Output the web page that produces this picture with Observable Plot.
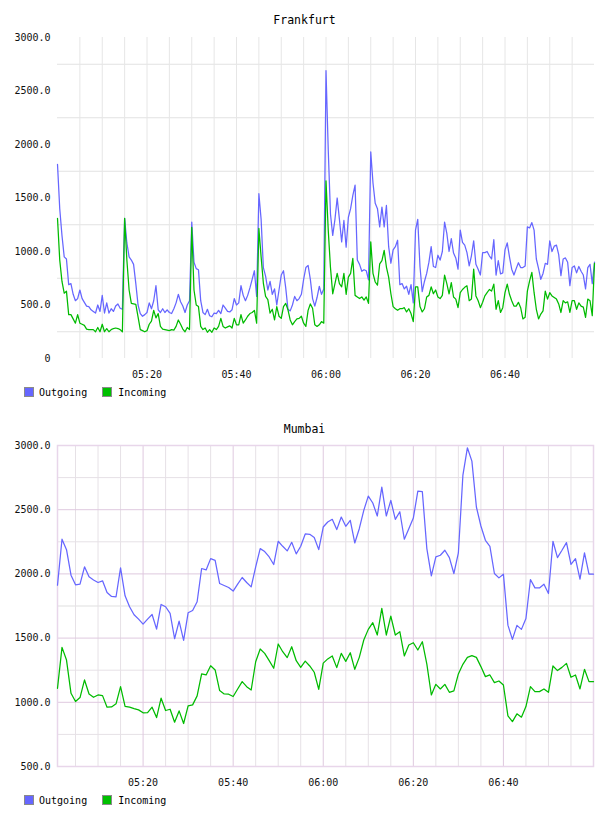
<!DOCTYPE html>
<html>
<head>
<meta charset="utf-8">
<script src="https://cdn.jsdelivr.net/npm/d3@7"></script>
<script src="https://cdn.jsdelivr.net/npm/@observablehq/plot@0.6"></script>
<style>
  body { margin: 0; background: #fff; }
  svg { display: block; }
  .legend {
    height: 24px; display: flex; align-items: center; padding-left: 24px;
    font: 10px "DejaVu Sans Mono", monospace; color: #000;
  }
  .sw {
    display: inline-block; width: 8px; height: 8px; border: 1px solid #8a8a8a;
    margin-right: 5px;
  }
</style>
</head>
<body>
<div id="frankfurt"></div>
<div class="legend"><span class="sw" style="background:#6666ff"></span>Outgoing<span class="sw" style="background:#00c000;margin-left:15px;margin-right:6px"></span>Incoming</div>
<div id="mumbai"></div>
<div class="legend"><span class="sw" style="background:#6666ff"></span>Outgoing<span class="sw" style="background:#00c000;margin-left:15px;margin-right:6px"></span>Incoming</div>
<script>
// Traffic samples per site; Frankfurt every 30 s from 05:00, Mumbai every minute from 05:01.
const seriesNames = ["Outgoing", "Incoming"];
const seriesColors = ["#6666ff", "#00bb00"];
const timeTickLabels = ["05:20", "05:40", "06:00", "06:20", "06:40"];

const frankfurtStart = "05:00";
const frankfurtEnd = "07:00";
const frankfurtStepSeconds = 30;
const frankfurtYTicks = [0, 500, 1000, 1500, 2000, 2500, 3000];
const frankfurtOutgoing = [
  1815, 1400, 1150, 950, 930, 690, 700, 600, 540, 560,
  640, 560, 525, 490, 485, 455, 440, 425, 500, 440,
  590, 425, 520, 425, 465, 440, 490, 510, 470, 460,
  1310, 1080, 950, 920, 880, 700, 500, 420, 395, 410,
  430, 520, 465, 540, 680, 455, 430, 465, 430, 455,
  430, 420, 465, 520, 600, 530, 490, 430, 500, 540,
  1275, 900, 840, 830, 540, 430, 410, 460, 400, 390,
  425, 420, 450, 420, 500, 470, 440, 435, 455, 560,
  500, 520, 680, 590, 540, 590, 660, 740, 820, 580,
  1540, 1300, 850, 770, 640, 720, 600, 650, 500, 640,
  780, 820, 660, 460, 445, 500, 580, 540, 560, 600,
  740, 850, 870, 740, 560, 490, 570, 675, 600, 650,
  2690, 1950, 1350, 1150, 1300, 1500, 1300, 1090, 1290, 1040,
  1320, 1400, 1525, 1620, 920, 880, 815, 830, 820, 735,
  1930, 1640, 1450, 1400, 1230, 1415, 1230, 1430, 1045, 890,
  1015, 1045, 1105, 690, 700, 650, 675, 600, 690, 520,
  1200, 1300, 860, 625, 720, 795, 900, 1045, 860, 850,
  965, 920, 1000, 1275, 1170, 1000, 1120, 985, 940, 835,
  1200, 1085, 1060, 990, 865, 960, 1100, 880, 835, 780,
  990, 990, 1000, 960, 930, 1110, 780, 915, 790, 800,
  1015, 1080, 950, 835, 780, 840, 895, 850, 850, 865,
  1230, 1220, 1270, 1200, 930, 840, 740, 795, 890, 880,
  1100, 1000, 1050, 1060, 970, 775, 930, 940, 900, 680,
  850, 865, 800, 860, 815, 780, 650, 850, 880, 700,
  900
];
const frankfurtIncoming = [
  1310, 920, 720, 610, 630, 410, 410, 370, 330, 410,
  330, 320, 310, 275, 270, 270, 270, 250, 290, 250,
  320, 250, 280, 250, 270, 280, 285, 280, 270, 250,
  1310, 920, 640, 515, 510, 505, 390, 270, 260, 250,
  260, 320, 350, 450, 380, 420, 300, 275, 270, 265,
  260, 270, 265, 300, 360, 320, 275, 250, 290, 270,
  1225, 640, 500, 485, 300, 270, 285, 245, 270, 245,
  285, 270, 300, 375, 300, 285, 295, 305, 285, 375,
  315, 315, 410, 330, 360, 395, 420, 430, 450, 330,
  1215, 950, 705, 580, 550, 425, 460, 360, 485, 395,
  375, 485, 515, 455, 360, 315, 345, 370, 375, 395,
  330, 300, 450, 510, 470, 315, 300, 315, 345, 330,
  1660, 1200, 850, 605, 700, 795, 700, 670, 795, 600,
  760, 795, 935, 590, 575, 560, 575, 545, 575, 515,
  1090, 795, 715, 685, 885, 915, 1010, 855, 760, 605,
  485, 465, 450, 465, 465, 475, 435, 465, 420, 345,
  670, 670, 485, 435, 465, 575, 590, 670, 605, 640,
  575, 560, 590, 780, 700, 605, 710, 575, 555, 475,
  615, 645, 665, 680, 540, 555, 835, 585, 540, 475,
  525, 585, 615, 645, 630, 695, 460, 540, 430, 475,
  615, 695, 600, 540, 490, 490, 525, 475, 370, 385,
  630, 725, 805, 615, 460, 370, 415, 445, 630, 555,
  615, 585, 570, 555, 510, 430, 540, 520, 530, 430,
  540, 540, 460, 520, 490, 480, 385, 555, 540, 400,
  890
];

const mumbaiStart = "05:01";
const mumbaiEnd = "07:00";
const mumbaiStepSeconds = 60;
const mumbaiYTicks = [500, 1000, 1500, 2000, 2500, 3000];
const mumbaiOutgoing = [
  1912, 2270, 2189, 1990, 1915, 1920, 2055, 1977, 1953, 1933,
  1946, 1855, 1824, 1822, 2047, 1829, 1744, 1682, 1648, 1609,
  1648, 1684, 1570, 1762, 1744, 1692, 1495, 1632, 1482, 1697,
  1715, 1783, 2042, 2031, 2119, 2106, 1925, 1910, 1894, 1866,
  1920, 1972, 1933, 1899, 2055, 2197, 2174, 2132, 2073, 2254,
  2215, 2179, 2246, 2156, 2215, 2311, 2308, 2283, 2189, 2365,
  2404, 2425, 2345, 2443, 2371, 2417, 2241, 2352, 2495, 2606,
  2552, 2451, 2676, 2451, 2573, 2425, 2484, 2270, 2352, 2435,
  2645, 2640, 2197, 1985, 2132, 2145, 2184, 2127, 2003, 2163,
  2767, 2982, 2878, 2521, 2373, 2262, 2215, 2003, 1969, 1998,
  1601, 1490, 1599, 1568, 1653, 1956, 1891, 1891, 1920, 1847,
  2254, 2127, 2184, 2244, 2075, 2119, 1959, 2163, 1998, 1998
];
const mumbaiIncoming = [
  1109, 1428, 1329, 1070, 1006, 1037, 1174, 1065, 1039, 1057,
  1052, 962, 964, 988, 1122, 969, 962, 951, 941, 918,
  920, 962, 881, 1032, 936, 946, 845, 933, 835, 972,
  980, 1050, 1221, 1213, 1285, 1252, 1091, 1065, 1063, 1045,
  1104, 1161, 1122, 1096, 1316, 1415, 1381, 1324, 1265, 1454,
  1394, 1348, 1433, 1324, 1272, 1321, 1283, 1234, 1101, 1305,
  1338, 1361, 1270, 1381, 1319, 1386, 1257, 1350, 1485, 1568,
  1620, 1524, 1731, 1524, 1671, 1524, 1550, 1361, 1446, 1464,
  1407, 1472, 1298, 1057, 1140, 1104, 1140, 1078, 1089, 1221,
  1296, 1350, 1363, 1350, 1278, 1200, 1213, 1153, 1166, 1135,
  894, 850, 910, 884, 967, 1122, 1083, 1083, 1104, 1078,
  1283, 1247, 1272, 1303, 1195, 1213, 1104, 1257, 1161, 1161
];

const FONT = '"DejaVu Sans Mono", monospace';
const clock = (s) => new Date(Date.UTC(2000, 0, 1, +s.slice(0, 2), +s.slice(3, 5)));
const fmtTime = d3.utcFormat("%H:%M");
const fmtValue = (v) => (v === 0 ? "0" : v.toFixed(1));

function toRows(start, stepSeconds, outgoing, incoming) {
  const t0 = +clock(start);
  const rows = [];
  [outgoing, incoming].forEach((values, k) => {
    values.forEach((v, i) => rows.push({time: new Date(t0 + i * stepSeconds * 1000), value: v, series: seriesNames[k]}));
  });
  return rows;
}

// Gridline positions every five minutes inside the domain.
function fiveMinuteMarks(start, end) {
  return d3.utcMinute.every(5).range(new Date(+clock(start) + 1), clock(end));
}

function trafficChart({title, titleY, start, end, stepSeconds, outgoing, incoming, yTicks, height, marginTop, marginRight, framed}) {
  const rows = toRows(start, stepSeconds, outgoing, incoming);
  const xTicks = timeTickLabels.map(clock);
  const yDomain = [yTicks[0], yTicks[yTicks.length - 1]];
  const halfSteps = d3.range(yTicks.length - 1).map((i) => (yTicks[i] + yTicks[i + 1]) / 2);
  const marks5 = fiveMinuteMarks(start, end);
  const isMajorTime = (d) => d.getUTCMinutes() % 20 === 0;

  const marks = [];
  if (framed) {
    const minorColor = "#e6e1e6";
    const majorColor = "#dfc9df";
    marks.push(
      Plot.ruleY(halfSteps, {stroke: (d) => d === 1750 ? "#efefef" : minorColor, strokeWidth: (d) => d === 1750 ? 2 : 1}),
      Plot.ruleX(marks5.filter((d) => !isMajorTime(d)), {stroke: minorColor}),
      Plot.ruleY(yTicks.slice(1, -1), {stroke: majorColor}),
      Plot.ruleX(marks5.filter(isMajorTime), {stroke: majorColor}),
      Plot.frame({stroke: "#e8d6ea", strokeWidth: 1.5})
    );
  } else {
    marks.push(
      Plot.ruleY(halfSteps, {stroke: "#e2e2e2"}),
      Plot.ruleX(marks5, {stroke: "#e6e6e6"})
    );
  }
  marks.push(
    Plot.line(rows, {x: "time", y: "value", z: "series", stroke: "series", strokeWidth: 1.25, curve: "linear"}),
    Plot.axisY({ticks: yTicks, tickSize: 0, tickPadding: 7, tickFormat: fmtValue, label: null, fill: "#111"}),
    Plot.axisX({ticks: xTicks, tickSize: 0, tickPadding: 12, tickFormat: fmtTime, label: null, fill: "#111"}),
    Plot.text([title], {frameAnchor: "top-left", dx: 304 - 57, dy: titleY - marginTop, lineAnchor: "middle", textAnchor: "middle", fontSize: 11.5, fill: "#000"})
  );

  return Plot.plot({
    width: 608,
    height,
    marginTop,
    marginBottom: 22,
    marginLeft: 57,
    marginRight,
    style: {fontFamily: FONT, fontSize: "10px", background: "#fff", overflow: "visible"},
    x: {type: "utc", domain: [clock(start), clock(end)]},
    y: {domain: yDomain},
    color: {domain: seriesNames, range: seriesColors},
    marks
  });
}

document.getElementById("frankfurt").append(trafficChart({
  title: "Frankfurt", titleY: 20, start: frankfurtStart, end: frankfurtEnd, stepSeconds: frankfurtStepSeconds,
  outgoing: frankfurtOutgoing, incoming: frankfurtIncoming, yTicks: frankfurtYTicks,
  height: 380, marginTop: 37, marginRight: 14, framed: false
}));

document.getElementById("mumbai").append(trafficChart({
  title: "Mumbai", titleY: 25, start: mumbaiStart, end: mumbaiEnd, stepSeconds: mumbaiStepSeconds,
  outgoing: mumbaiOutgoing, incoming: mumbaiIncoming, yTicks: mumbaiYTicks,
  height: 384, marginTop: 41, marginRight: 15, framed: true
}));
</script>
</body>
</html>
